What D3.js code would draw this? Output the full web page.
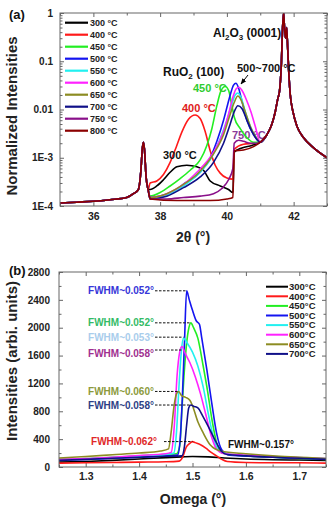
<!DOCTYPE html>
<html>
<head>
<meta charset="utf-8">
<script src="https://cdn.jsdelivr.net/npm/d3@7"></script>
<style>
body { margin: 0; background: #fff; }
svg text { font-family: "Liberation Sans", Arial, sans-serif; font-weight: bold; }
</style>
</head>
<body>
<svg id="chart" width="332" height="507"></svg>
<script>
// ---------- panel (a) data: XRD 2theta scans, [2theta, normalized intensity] ----------
const xrdLeft = [[35.0,1.15e-4],[35.5,1.2e-4],[36.0,1.25e-4],[36.5,1.35e-4],[37.0,1.5e-4],[37.2,1.8e-4],[37.35,2.2e-4],
    [37.42,5e-4],[37.47,1.6e-3],[37.5,2.1e-3],[37.53,1.5e-3],[37.58,4e-4],[37.64,2.2e-4]];
const xrdSapphire = [[41.0,2.1e-3],[41.2,3e-3],[41.35,5e-3],[41.45,9e-3],[41.52,0.016],[41.58,0.025],[41.63,0.08],
    [41.67,0.5],[41.7,1.0],[41.73,0.45],[41.76,0.3],[41.79,0.5],[41.82,0.2],[41.86,0.05],[41.9,0.02],[41.98,0.009],
    [42.1,0.0045],[42.3,2.6e-3],[42.6,1.6e-3],[43.0,1.0e-3]];
const xrd300 = [[37.7,2.2e-4],[37.9,2.6e-4],[38.1,3.5e-4],[38.3,5e-4],[38.5,6.5e-4],[38.8,7e-4],[39.1,6.5e-4],[39.3,5.5e-4],
    [39.5,3.3e-4],[39.8,2.6e-4],[40.05,2.2e-4],[40.18,1.9e-4],[40.22,1.3e-3],[40.45,1.6e-3],[40.75,1.8e-3]];
const xrd400 = [[37.7,3e-4],[37.9,3.3e-4],[38.1,4.5e-4],[38.3,8e-4],[38.5,1.8e-3],[38.65,3.4e-3],[38.85,6.3e-3],[39.05,7.7e-3],
    [39.2,6.5e-3],[39.35,3.5e-3],[39.5,1.4e-3],[39.65,7e-4],[39.8,4.8e-4],[40.0,3.8e-4],[40.18,3.6e-4],[40.22,1.5e-3],
    [40.5,1.9e-3],[40.8,2e-3]];
const xrd450 = [[37.7,1.6e-4],[38.0,1.9e-4],[38.3,2.6e-4],[38.6,3.7e-4],[38.9,5.5e-4],[39.2,9e-4],[39.4,1.8e-3],[39.55,4e-3],
    [39.7,0.012],[39.82,0.024],[39.95,0.03],[40.05,0.025],[40.15,0.012],[40.22,7e-3],[40.4,4e-3],[40.6,2.6e-3],[40.8,2.1e-3]];
const xrd500 = [[37.7,1.5e-4],[38.0,1.6e-4],[38.4,2e-4],[38.75,3e-4],[39.2,5e-4],[39.5,1e-3],[39.7,2.2e-3],[39.9,6e-3],
    [40.0,0.011],[40.1,0.02],[40.2,0.032],[40.27,0.035],[40.35,0.028],[40.45,0.015],[40.6,6e-3],[40.8,3e-3]];
const xrd550 = [[37.7,1.4e-4],[38.2,1.7e-4],[38.7,2.6e-4],[39.2,5e-4],[39.5,9e-4],[39.8,2.5e-3],[40.0,6e-3],[40.15,0.013],
    [40.25,0.02],[40.33,0.022],[40.42,0.018],[40.55,9e-3],[40.7,4.5e-3],[40.9,2.5e-3]];
const xrd600 = [[37.7,1.5e-4],[38.2,1.8e-4],[38.7,2.8e-4],[39.1,5e-4],[39.6,1.3e-3],[39.9,3.5e-3],[40.05,8e-3],[40.18,0.018],
    [40.28,0.027],[40.36,0.029],[40.45,0.025],[40.6,0.015],[40.72,9e-3],[40.85,4.5e-3]];
const xrd650 = [[37.7,1.5e-4],[38.2,1.8e-4],[38.7,2.8e-4],[39.1,4.5e-4],[39.6,1.2e-3],[39.9,3e-3],[40.1,8e-3],[40.22,0.014],
    [40.33,0.019],[40.42,0.016],[40.55,9e-3],[40.7,4.5e-3],[40.85,2.8e-3]];
const xrd700 = [[37.7,1.4e-4],[38.2,1.6e-4],[38.7,2.4e-4],[39.2,4e-4],[39.6,8e-4],[39.9,2e-3],[40.1,5e-3],[40.22,9e-3],
    [40.33,0.012],[40.45,0.0105],[40.6,6e-3],[40.75,3.5e-3],[40.9,2.4e-3]];
const xrd750 = [[37.7,1.4e-4],[38.2,1.4e-4],[38.7,1.5e-4],[39.2,1.6e-4],[39.6,1.8e-4],[39.85,2.3e-4],[40.05,3.5e-4],
    [40.18,6e-4],[40.22,2e-3],[40.35,2.3e-3],[40.5,2.2e-3],[40.7,2e-3],[40.9,2e-3]];
const xrd800 = [[37.7,1.4e-4],[38.5,1.3e-4],[39.5,1.3e-4],[40.0,1.4e-4],[40.18,1.5e-4],[40.22,1.4e-3],[40.5,1.45e-3],[40.8,1.7e-3]];

const tempsA = ["300 °C","400 °C","450 °C","500 °C","550 °C","600 °C","650 °C","700 °C","750 °C","800 °C"];
const middleA = [xrd300, xrd400, xrd450, xrd500, xrd550, xrd600, xrd650, xrd700, xrd750, xrd800];
const colorsA = ["#000000","#ff1a1a","#22ee22","#1414f0","#22f0f0","#ff22ff","#8c8c22","#101088","#8a108a","#8b0000"];
const yTicksA = [1e-4, 1e-3, 1e-2, 1e-1, 1];
const yTickLabelsA = ["1E-4","1E-3","0.01","0.1","1"];
const xTicksA = [36, 38, 40, 42];

// ---------- panel (b) data: omega rocking curves, [omega, intensity] ----------
const rock300 = [[1.25,70],[1.3,80],[1.35,95],[1.4,115],[1.45,135],[1.48,145],[1.5,150],[1.53,145],[1.56,130],[1.6,115],
    [1.65,105],[1.7,100],[1.75,95]];
const rock400 = [[1.25,55],[1.3,60],[1.35,65],[1.4,70],[1.45,75],[1.475,85],[1.482,150],[1.488,280],[1.495,340],[1.5,365],
    [1.505,350],[1.515,320],[1.525,270],[1.535,210],[1.545,160],[1.555,110],[1.565,80],[1.6,65],[1.65,60],[1.7,60],[1.75,55]];
const rock450 = [[1.25,110],[1.3,120],[1.35,140],[1.4,160],[1.45,180],[1.47,190],[1.476,300],[1.48,800],[1.484,1300],
    [1.488,1700],[1.492,1950],[1.497,2070],[1.502,2000],[1.51,1850],[1.52,1450],[1.528,1100],[1.536,700],[1.545,350],
    [1.555,200],[1.58,170],[1.62,150],[1.68,130],[1.75,110]];
const rock500 = [[1.25,100],[1.3,110],[1.35,125],[1.4,140],[1.45,160],[1.472,170],[1.477,400],[1.481,1000],[1.485,1800],
    [1.489,2530],[1.494,2400],[1.5,2250],[1.507,2100],[1.513,2050],[1.517,1870],[1.527,1390],[1.536,920],[1.545,490],
    [1.555,245],[1.57,170],[1.62,150],[1.68,130],[1.75,115]];
const rock550 = [[1.25,105],[1.3,115],[1.35,135],[1.4,155],[1.45,180],[1.465,200],[1.47,500],[1.475,1200],[1.479,1650],
    [1.483,1850],[1.49,1780],[1.5,1650],[1.51,1450],[1.52,1150],[1.53,750],[1.54,400],[1.55,230],[1.57,180],[1.62,160],
    [1.68,140],[1.75,120]];
const rock600 = [[1.25,110],[1.3,120],[1.35,140],[1.4,165],[1.45,190],[1.46,210],[1.466,600],[1.471,1300],[1.476,1650],
    [1.48,1730],[1.487,1620],[1.495,1500],[1.505,1300],[1.515,1050],[1.525,750],[1.535,450],[1.545,260],[1.56,190],
    [1.6,170],[1.65,150],[1.7,135],[1.75,120]];
const rock650 = [[1.25,130],[1.3,150],[1.35,175],[1.4,200],[1.44,230],[1.455,260],[1.46,500],[1.465,850],[1.47,1050],
    [1.474,1085],[1.48,1020],[1.487,1000],[1.495,960],[1.5,880],[1.51,650],[1.52,490],[1.533,320],[1.553,230],[1.6,190],
    [1.65,160],[1.7,140],[1.75,120]];
const rock700 = [[1.25,95],[1.3,110],[1.35,125],[1.4,140],[1.45,155],[1.48,160],[1.485,300],[1.489,600],[1.493,850],
    [1.497,890],[1.503,870],[1.51,850],[1.52,720],[1.533,530],[1.545,345],[1.555,220],[1.565,180],[1.6,160],[1.65,140],
    [1.7,125],[1.75,110]];

const tempsB = ["300°C","400°C","450°C","500°C","550°C","600°C","650°C","700°C"];
const seriesB = [rock300, rock400, rock450, rock500, rock550, rock600, rock650, rock700];
const colorsB = ["#000000","#ff1a1a","#22ee22","#1414f0","#22f0f0","#ff22ff","#8c8c22","#101088"];
const fwhmLabels = ["FWHM~0.052°","FWHM~0.052°","FWHM~0.053°","FWHM~0.058°","FWHM~0.060°","FWHM~0.058°","FWHM~0.062°","FWHM~0.157°"];
const fwhmSeries = [3, 2, 4, 5, 6, 7, 1, 0];
const fwhmColors = ["#3636d8","#33bb66","#a9cdec","#a0308f","#8c9a3c","#2e3f85","#e02828","#111111"];
const xTicksB = [1.3, 1.4, 1.5, 1.6, 1.7];
const yTicksB = [0, 400, 800, 1200, 1600, 2000, 2400, 2800];

const svg = d3.select("#chart");
const frameColor = "#666";

// arrow marker
svg.append("defs").append("marker")
    .attr("id", "arrow")
    .attr("viewBox", "0 -5 10 10")
    .attr("refX", 9).attr("refY", 0)
    .attr("markerWidth", 6).attr("markerHeight", 6)
    .attr("orient", "auto")
    .append("path").attr("d", "M0,-4L10,0L0,4Z").attr("fill", "#000");

function styleAxis(g) {
    g.select(".domain").remove();
    g.selectAll(".tick line").attr("stroke", frameColor);
}

// ================= panel (a) =================
const xA = d3.scaleLinear().domain([35, 43]).range([60, 327]);
const yA = d3.scaleLog().domain([1e-4, 1]).range([206, 13]);

svg.append("clipPath").attr("id", "clipA").append("rect")
    .attr("x", 60).attr("y", 13).attr("width", 267).attr("height", 193);

const gA = svg.append("g");

// minor ticks
const minorA = yA.ticks().filter(v => !yTicksA.includes(v));
const xMinorA = d3.range(35, 43.01, 1).filter(v => !xTicksA.includes(v));

gA.append("g").attr("transform", "translate(0,206)")
    .call(d3.axisBottom(xA).tickValues(xTicksA).tickFormat(d3.format("d")).tickSizeInner(-4).tickSizeOuter(0).tickPadding(7))
    .call(styleAxis).selectAll("text").attr("font-size", 10.5).attr("fill", "#222");
gA.append("g").attr("transform", "translate(0,206)")
    .call(d3.axisBottom(xA).tickValues(xMinorA).tickFormat("").tickSizeInner(-2.5).tickSizeOuter(0)).call(styleAxis);
gA.append("g").attr("transform", "translate(0,13)")
    .call(d3.axisTop(xA).tickValues(xTicksA).tickFormat("").tickSizeInner(-4).tickSizeOuter(0)).call(styleAxis);
gA.append("g").attr("transform", "translate(0,13)")
    .call(d3.axisTop(xA).tickValues(xMinorA).tickFormat("").tickSizeInner(-2.5).tickSizeOuter(0)).call(styleAxis);

gA.append("g").attr("transform", "translate(60,0)")
    .call(d3.axisLeft(yA).tickValues(yTicksA).tickFormat((d, i) => yTickLabelsA[i]).tickSizeInner(-4).tickSizeOuter(0).tickPadding(7))
    .call(styleAxis).selectAll("text").attr("font-size", 10).attr("fill", "#222");
gA.append("g").attr("transform", "translate(60,0)")
    .call(d3.axisLeft(yA).tickValues(minorA).tickFormat("").tickSizeInner(-2.5).tickSizeOuter(0)).call(styleAxis);
gA.append("g").attr("transform", "translate(327,0)")
    .call(d3.axisRight(yA).tickValues(yTicksA).tickFormat("").tickSizeInner(-4).tickSizeOuter(0)).call(styleAxis);
gA.append("g").attr("transform", "translate(327,0)")
    .call(d3.axisRight(yA).tickValues(minorA).tickFormat("").tickSizeInner(-2.5).tickSizeOuter(0)).call(styleAxis);

// 750 label sits under the curves
gA.append("text").attr("x", 232).attr("y", 139).attr("font-size", 11).attr("fill", "#8a3a9a").text("750 °C");

const lineA = d3.line().x(d => xA(d[0])).y(d => yA(d[1])).curve(d3.curveMonotoneX);
gA.append("g").attr("clip-path", "url(#clipA)")
    .selectAll("path")
    .data(middleA.map(m => xrdLeft.concat(m, xrdSapphire)))
    .join("path")
    .attr("d", lineA)
    .attr("fill", "none")
    .attr("stroke", (d, i) => colorsA[i])
    .attr("stroke-width", 1.6);

gA.append("rect").attr("x", 60).attr("y", 13).attr("width", 267).attr("height", 193)
    .attr("fill", "none").attr("stroke", frameColor).attr("stroke-width", 1);

// legend (a)
const legA = gA.append("g").selectAll("g").data(tempsA).join("g")
    .attr("transform", (d, i) => `translate(0,${22.7 + 12 * i})`);
legA.append("line").attr("x1", 65).attr("x2", 88).attr("stroke", (d, i) => colorsA[i]).attr("stroke-width", 2.2);
legA.append("text").attr("x", 90).attr("y", 3.3).attr("font-size", 9).attr("fill", "#222").text(d => d);

// annotations (a)
const al = gA.append("text").attr("x", 213).attr("y", 37).attr("font-size", 12).attr("fill", "#111");
al.append("tspan").text("Al");
al.append("tspan").attr("font-size", 8).attr("dy", 3).text("2");
al.append("tspan").attr("dy", -3).text("O");
al.append("tspan").attr("font-size", 8).attr("dy", 3).text("3");
al.append("tspan").attr("dy", -3).text(" (0001)");

const ru = gA.append("text").attr("x", 163).attr("y", 76).attr("font-size", 12).attr("fill", "#111");
ru.append("tspan").text("RuO");
ru.append("tspan").attr("font-size", 8).attr("dy", 3).text("2");
ru.append("tspan").attr("dy", -3).text(" (100)");

gA.append("text").attr("x", 237).attr("y", 72).attr("font-size", 11).attr("fill", "#111").text("500~700 °C");
gA.append("line").attr("x1", 248).attr("y1", 75).attr("x2", 241).attr("y2", 84)
    .attr("stroke", "#000").attr("stroke-width", 1).attr("marker-end", "url(#arrow)");
gA.append("text").attr("x", 193).attr("y", 92).attr("font-size", 11).attr("fill", "#2fcc2f").text("450 °C");
gA.append("text").attr("x", 182).attr("y", 112).attr("font-size", 11).attr("fill", "#e02020").text("400 °C");
gA.append("text").attr("x", 163).attr("y", 159).attr("font-size", 11).attr("fill", "#111").text("300 °C");

// titles (a)
gA.append("text").attr("x", 9).attr("y", 19).attr("font-size", 13).attr("fill", "#111").text("(a)");
gA.append("text").attr("transform", "translate(17,116) rotate(-90)").attr("text-anchor", "middle")
    .attr("font-size", 15).attr("fill", "#222").text("Normalized Intensities");
gA.append("text").attr("x", 193).attr("y", 242).attr("text-anchor", "middle")
    .attr("font-size", 14).attr("fill", "#222").text("2θ (°)");

// ================= panel (b) =================
const xB = d3.scaleLinear().domain([1.25, 1.75]).range([59, 326]);
const yB = d3.scaleLinear().domain([0, 2800]).range([467, 272]);

svg.append("clipPath").attr("id", "clipB").append("rect")
    .attr("x", 59).attr("y", 272).attr("width", 267).attr("height", 195);

const gB = svg.append("g");
const xMinorB = d3.range(1.25, 1.76, 0.1);
const yMinorB = d3.range(200, 2800, 400);

gB.append("g").attr("transform", "translate(0,467)")
    .call(d3.axisBottom(xB).tickValues(xTicksB).tickFormat(d3.format(".1f")).tickSizeInner(-4).tickSizeOuter(0).tickPadding(6))
    .call(styleAxis).selectAll("text").attr("font-size", 10.5).attr("fill", "#222");
gB.append("g").attr("transform", "translate(0,467)")
    .call(d3.axisBottom(xB).tickValues(xMinorB).tickFormat("").tickSizeInner(-2.5).tickSizeOuter(0)).call(styleAxis);
gB.append("g").attr("transform", "translate(0,272)")
    .call(d3.axisTop(xB).tickValues(xTicksB).tickFormat("").tickSizeInner(-4).tickSizeOuter(0)).call(styleAxis);
gB.append("g").attr("transform", "translate(0,272)")
    .call(d3.axisTop(xB).tickValues(xMinorB).tickFormat("").tickSizeInner(-2.5).tickSizeOuter(0)).call(styleAxis);

gB.append("g").attr("transform", "translate(59,0)")
    .call(d3.axisLeft(yB).tickValues(yTicksB).tickFormat(d3.format("d")).tickSizeInner(-4).tickSizeOuter(0).tickPadding(9))
    .call(styleAxis).selectAll("text").attr("font-size", 10).attr("fill", "#222");
gB.append("g").attr("transform", "translate(59,0)")
    .call(d3.axisLeft(yB).tickValues(yMinorB).tickFormat("").tickSizeInner(-2.5).tickSizeOuter(0)).call(styleAxis);
gB.append("g").attr("transform", "translate(326,0)")
    .call(d3.axisRight(yB).tickValues(yTicksB).tickFormat("").tickSizeInner(-4).tickSizeOuter(0)).call(styleAxis);
gB.append("g").attr("transform", "translate(326,0)")
    .call(d3.axisRight(yB).tickValues(yMinorB).tickFormat("").tickSizeInner(-2.5).tickSizeOuter(0)).call(styleAxis);

const lineB = d3.line().x(d => xB(d[0])).y(d => yB(d[1])).curve(d3.curveMonotoneX);
gB.append("g").attr("clip-path", "url(#clipB)")
    .selectAll("path")
    .data(seriesB)
    .join("path")
    .attr("d", lineB)
    .attr("fill", "none")
    .attr("stroke", (d, i) => colorsB[i])
    .attr("stroke-width", 1.6);

gB.append("rect").attr("x", 59).attr("y", 272).attr("width", 267).attr("height", 195)
    .attr("fill", "none").attr("stroke", frameColor).attr("stroke-width", 1);

// FWHM labels with dashed leaders to the peak
const leaderShift = [0, 0, -1, 3.5, 0, 0, 0, 0];
const textShift = [0, 0, -1, 7, 0, 0, 0, 0];
fwhmLabels.forEach((label, i) => {
    const peak = d3.greatest(seriesB[fwhmSeries[i]], d => d[1]);
    const py = yB(peak[1]);
    if (i === 7) {
        gB.append("text").attr("x", 228).attr("y", 447.5).attr("font-size", 10).attr("fill", fwhmColors[i]).text(label);
        return;
    }
    const textEnd = i === 6 ? 157 : 154;
    const dashStart = i === 6 ? 164 : 155;
    gB.append("text").attr("x", textEnd).attr("y", py + textShift[i] + 3.6).attr("text-anchor", "end")
        .attr("font-size", 10).attr("fill", fwhmColors[i]).text(label);
    gB.append("line").attr("x1", dashStart).attr("x2", xB(peak[0]))
        .attr("y1", py + leaderShift[i]).attr("y2", py + leaderShift[i])
        .attr("stroke", "#111").attr("stroke-width", 1).attr("stroke-dasharray", "2.5,1.5");
});

// legend (b)
const legB = gB.append("g").selectAll("g").data(tempsB).join("g")
    .attr("transform", (d, i) => `translate(0,${286.7 + 9.6 * i})`);
legB.append("line").attr("x1", 266).attr("x2", 288).attr("stroke", (d, i) => colorsB[i]).attr("stroke-width", 2);
legB.append("text").attr("x", 289).attr("y", 3.3).attr("font-size", 9.5).attr("fill", "#222").text(d => d);

// titles (b)
gB.append("text").attr("x", 9).attr("y", 275).attr("font-size", 13).attr("fill", "#111").text("(b)");
gB.append("text").attr("transform", "translate(17,361) rotate(-90)").attr("text-anchor", "middle")
    .attr("font-size", 15).attr("fill", "#222").text("Intensities (arbi. units)");
gB.append("text").attr("x", 193).attr("y", 504).attr("text-anchor", "middle")
    .attr("font-size", 14).attr("fill", "#222").text("Omega (°)");
</script>
</body>
</html>
